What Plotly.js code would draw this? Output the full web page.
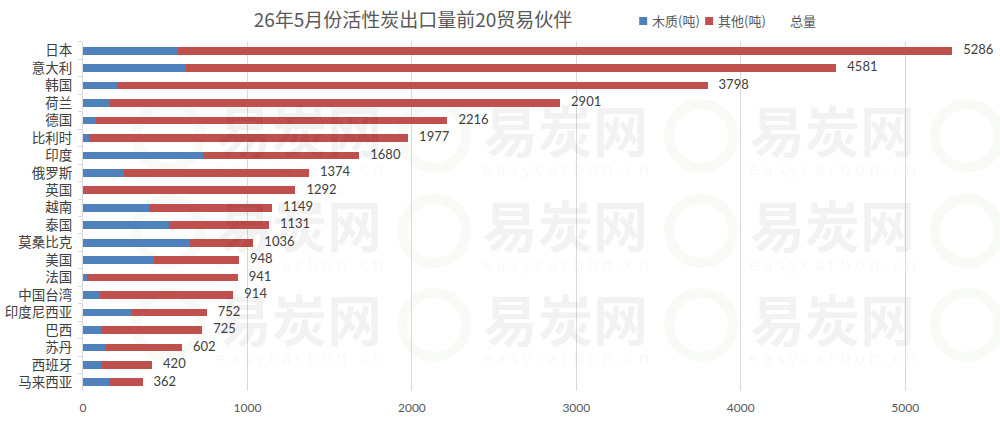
<!DOCTYPE html>
<html>
<head>
<meta charset="utf-8">
<script src="https://cdn.plot.ly/plotly-3.0.1.min.js"></script>
<style>
  html, body { margin: 0; padding: 0; background: #fff; }
  #chart { width: 1000px; height: 421px; }
</style>
</head>
<body>
<div id="chart"></div>
<script>
const partners = ["日本", "意大利", "韩国", "荷兰", "德国", "比利时", "印度", "俄罗斯", "英国", "越南",
  "泰国", "莫桑比克", "美国", "法国", "中国台湾", "印度尼西亚", "巴西", "苏丹", "西班牙", "马来西亚"];
const woodTons = [579, 626, 213, 166, 79, 36, 727, 249, 0, 403, 523, 650, 431, 24, 101, 300, 115, 138, 111, 160];
const otherTons = [4707, 3955, 3585, 2735, 2137, 1941, 953, 1125, 1292, 746, 608, 386, 517, 917, 813, 452, 610, 464, 309, 202];
const totalTons = [5286, 4581, 3798, 2901, 2216, 1977, 1680, 1374, 1292, 1149, 1131, 1036, 948, 941, 914, 752, 725, 602, 420, 362];
const xTicks = [0, 1000, 2000, 3000, 4000, 5000];

const woodColor = "#4F81BD";
const otherColor = "#C0504D";
const cjkFont = "'Noto Sans CJK SC', 'Noto Sans', sans-serif";
const numFont = "Lato, 'Noto Sans CJK SC', sans-serif";

const woodBars = {
  type: "bar",
  orientation: "h",
  name: "木质(吨)",
  x: woodTons,
  y: partners,
  marker: { color: woodColor },
  hoverinfo: "x+y+name",
};

const otherBars = {
  type: "bar",
  orientation: "h",
  name: "其他(吨)",
  x: otherTons,
  y: partners,
  marker: { color: otherColor },
  hoverinfo: "x+y+name",
};

// invisible points just to carry the total labels (like Excel's "总量" series)
const totalLabels = {
  type: "scatter",
  mode: "markers+text",
  name: "总量",
  x: totalTons,
  y: partners,
  text: totalTons.map(String),
  textposition: "middle right",
  textfont: { family: numFont, size: 13, color: "#404040" },
  marker: { size: 16, color: "rgba(0,0,0,0)" },
  cliponaxis: false,
  hoverinfo: "x+y",
};

// page geometry: paper area runs from y=5 to y=391.4, x=82.5 to 971
const padTop = 5, plotBottom = 391.4, plotLeft = 82.5, plotRight = 971;
const paperH = plotBottom - padTop;
const paperW = plotRight - plotLeft;
const px = (x) => (x - plotLeft) / paperW;
const py = (y) => (plotBottom - y) / paperH;

const annotations = [];
const shapes = [];

// faint site watermark tiles
const wmCols = [299, 565, 832, 1098];
const wmRows = [128, 223, 317];
for (const cy of wmRows) {
  for (const cx of wmCols) {
    if (cx < 950) {
      annotations.push({
        xref: "paper", yref: "paper", xanchor: "center", yanchor: "middle",
        x: px(cx), y: py(cy),
        text: "<b>易炭网</b>", showarrow: false,
        font: { family: cjkFont, size: 55, color: "rgba(0,0,0,0.05)" },
      });
      annotations.push({
        xref: "paper", yref: "paper", xanchor: "center", yanchor: "middle",
        x: px(cx), y: py(cy + 41),
        text: "e a s y c a r b o n . c n", showarrow: false,
        font: { family: "'Open Sans', sans-serif", size: 17, color: "rgba(0,0,0,0.045)" },
      });
    }
    const lx = cx - 131;
    const ly = cy + 8;
    shapes.push({
      type: "circle", xref: "paper", yref: "paper", layer: "below",
      x0: px(lx - 32), x1: px(lx + 32),
      y0: py(ly + 32), y1: py(ly - 32),
      line: { color: "rgba(170,210,130,0.08)", width: 10 },
    });
  }
}

// compact legend drawn by hand, Excel style
const legendItems = [
  { label: "木质(吨)", color: woodColor, left: 639 },
  { label: "其他(吨)", color: otherColor, left: 705 },
  { label: "总量", color: null, left: 777 },
];
for (const item of legendItems) {
  if (item.color) {
    shapes.push({
      type: "rect", xref: "paper", yref: "paper",
      x0: px(item.left), x1: px(item.left + 8),
      y0: py(25), y1: py(17),
      fillcolor: item.color, line: { width: 0 },
    });
  }
  annotations.push({
    xref: "paper", yref: "paper", xanchor: "left", yanchor: "middle",
    x: px(item.left + 11), y: py(21),
    text: item.label, showarrow: false,
    font: { family: cjkFont, size: 13, color: "#595959" },
  });
}

const chartLayout = {
  width: 1000,
  height: 421,
  margin: { l: plotLeft, r: 1000 - plotRight, t: padTop, b: 421 - plotBottom, autoexpand: false },
  paper_bgcolor: "#ffffff",
  plot_bgcolor: "#ffffff",
  barmode: "stack",
  bargap: 0.56,
  title: {
    text: "26年5月份活性炭出口量前20贸易伙伴",
    font: { family: cjkFont, size: 19, color: "#595959" },
    x: 0.413, xanchor: "center", y: 0.952, yanchor: "middle",
  },
  showlegend: false,
  xaxis: {
    range: [0, 5400],
    tickvals: xTicks,
    ticktext: xTicks.map(String),
    showgrid: true,
    gridcolor: "#d9d9d9",
    gridwidth: 1,
    zeroline: false,
    showline: false,
    ticks: "",
    ticklabelstandoff: 8,
    tickfont: { family: numFont, size: 12, color: "#595959" },
    fixedrange: true,
  },
  yaxis: {
    type: "category",
    domain: [0, py(42)],
    range: [partners.length - 0.5, -0.5],
    tickmode: "array",
    tickvals: partners,
    ticktext: partners,
    showline: true,
    linecolor: "#d9d9d9",
    ticks: "outside",
    tickson: "boundaries",
    ticklen: 4,
    tickcolor: "#d9d9d9",
    ticklabelstandoff: 7,
    showgrid: false,
    tickfont: { family: cjkFont, size: 13.5, color: "#404040" },
    fixedrange: true,
  },
  annotations: annotations,
  shapes: shapes,
};

const chartConfig = { displayModeBar: false };

Plotly.newPlot("chart", [woodBars, otherBars, totalLabels], chartLayout, chartConfig);
</script>
</body>
</html>
